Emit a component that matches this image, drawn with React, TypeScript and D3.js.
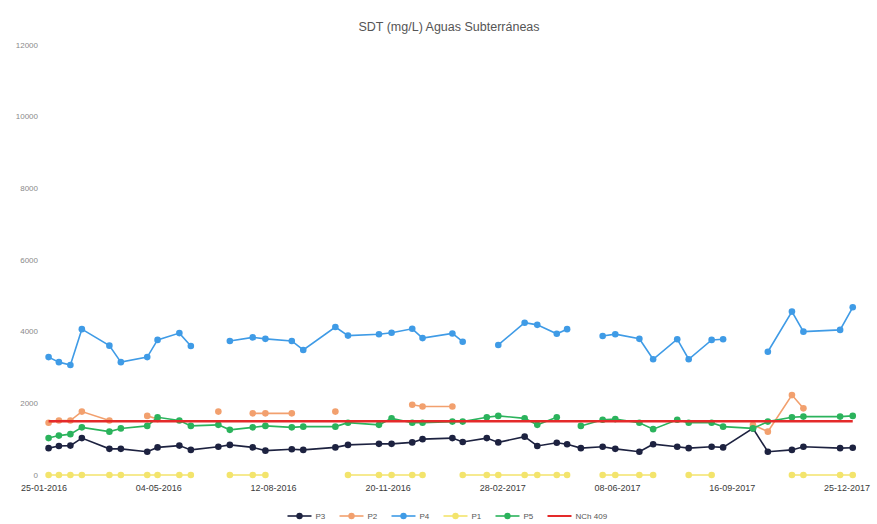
import React, { useEffect } from 'react';
import * as d3 from 'd3';

// fechas de muestreo
const sampleDates = [
  '2016-01-29', '2016-02-07', '2016-02-17', '2016-02-27', '2016-03-22', '2016-04-01', '2016-04-24', '2016-05-03', '2016-05-22', '2016-06-01',
  '2016-06-25', '2016-07-05', '2016-07-25', '2016-08-05', '2016-08-28', '2016-09-07', '2016-10-05', '2016-10-16', '2016-11-12', '2016-11-23',
  '2016-12-11', '2016-12-20', '2017-01-15', '2017-01-24', '2017-02-14', '2017-02-24', '2017-03-19', '2017-03-30', '2017-04-16', '2017-04-25',
  '2017-05-07', '2017-05-26', '2017-06-06', '2017-06-27', '2017-07-09', '2017-07-30', '2017-08-09', '2017-08-29', '2017-09-08', '2017-10-04',
  '2017-10-17', '2017-11-07', '2017-11-17', '2017-12-19', '2017-12-30',
];

// SDT por pozo, null = sin dato
const p3 = [
  750, 810, 820, 1030, 730, 730, 650, 770, 820, 700,
  790, 840, 770, 680, 720, 700, 770, 840, 870, 870,
  910, 1000, 1030, 920, 1030, 910, 1070, 810, 900, 860,
  750, 790, 730, 650, 860, 790, 750, 790, 770, 1300,
  650, 700, 790, 750, 760,
];
const p2 = [
  1460, 1520, 1520, 1770, 1520, null, 1650, 1560, null, null,
  1770, null, 1720, 1720, 1720, null, 1770, null, null, null,
  1960, 1910, 1910, null, null, null, null, null, null, null,
  null, null, null, null, null, null, null, null, null, 1400,
  1210, 2230, 1860, null, null,
];
const p4 = [
  3290, 3150, 3070, 4070, 3610, 3150, 3290, 3770, 3960, 3600,
  null, 3740, 3840, 3800, 3740, 3490, 4130, 3890, 3930, 3970,
  4080, 3820, 3950, 3720, null, 3630, 4250, 4190, 3940, 4070,
  null, 3880, 3930, 3800, 3230, 3790, 3230, 3770, 3790, null,
  3440, 4560, 4000, 4050, 4680,
];
const p1 = [
  0, 0, 0, 0, 0, 0, 0, 0, 0, 0,
  null, 0, 0, 0, null, null, null, 0, 0, 0,
  0, 0, null, 0, 0, 0, 0, 0, 0, 0,
  null, 0, 0, 0, 0, null, 0, 0, null, null,
  null, 0, 0, 0, 0,
];
const p5 = [
  1030, 1100, 1140, 1330, 1210, 1300, 1370, 1610, 1520, 1370,
  1400, 1260, 1330, 1370, 1330, 1350, 1350, 1460, 1400, 1580,
  1460, 1460, 1490, 1490, 1610, 1650, 1580, 1400, 1610, null,
  1370, 1540, 1560, 1460, 1280, 1540, 1460, 1460, 1350, 1300,
  1490, 1610, 1630, 1630, 1650,
];
// límite NCh 409 (mg/L)
const normLimit = 1500;

const xTickLabels = ['25-01-2016', '04-05-2016', '12-08-2016', '20-11-2016', '28-02-2017', '08-06-2017', '16-09-2017', '25-12-2017'];
const yTicks = [0, 2000, 4000, 6000, 8000, 10000, 12000];

const seriesNames = ['P3', 'P2', 'P4', 'P1', 'P5'];
const seriesValues = [p3, p2, p4, p1, p5];
const seriesColors = ['#1d2240', '#f2a06e', '#3f9be6', '#f3e46c', '#2bb35c'];
const normName = 'NCh 409';
const normColor = '#e42a2a';

const W = 877, H = 524;
const FONT = '"Liberation Sans", "Open Sans", sans-serif';

export default function App() {
  useEffect(() => {
    document.body.style.margin = '0';
  }, []);

  const parseIso = d3.timeParse('%Y-%m-%d');
  const parseTick = d3.timeParse('%d-%m-%Y');
  const dates = sampleDates.map(s => parseIso(s) as Date);
  const tickDates = xTickLabels.map(s => parseTick(s) as Date);

  const x = d3.scaleTime()
    .domain([tickDates[0], tickDates[tickDates.length - 1]])
    .range([44, 847]);
  const y = d3.scaleLinear().domain([0, 12000]).range([475, 45]);

  const line = d3.line<number | null>()
    .defined(v => v !== null)
    .x((_, i) => x(dates[i]))
    .y(v => y(v as number));

  // leyenda: ancho por ítem
  const legendItems = [
    ...seriesNames.map((n, i) => ({ name: n, color: seriesColors[i], marker: true })),
    { name: normName, color: normColor, marker: false },
  ];
  const itemW = (n: string) => 24 + 4 + n.length * 5 + 14;
  const totalW = legendItems.reduce((a, it) => a + itemW(it.name), 0) - 14;
  let lx = 449 - totalW / 2;
  const legendPos = legendItems.map(it => { const p = lx; lx += itemW(it.name); return p; });

  return (
    <svg width={W} height={H} style={{ display: 'block', background: '#fff', fontFamily: FONT }}>
      <text x={449} y={31} textAnchor="middle" fontSize={12.5} fill="#555">SDT (mg/L) Aguas Subterráneas</text>

      {yTicks.map(t => (
        <text key={t} x={38} y={y(t)} dy="0.32em" textAnchor="end" fontSize={8} fill="#8a8a8a">{t}</text>
      ))}

      {tickDates.map((d, i) => (
        <text key={i} x={x(d)} y={491} textAnchor="middle" fontSize={9} fill="#3a3a3a">{xTickLabels[i]}</text>
      ))}

      {seriesValues.map((vals, si) => (
        <g key={si}>
          <path d={line(vals) || ''} fill="none" stroke={seriesColors[si]} strokeWidth={1.6} />
          {vals.map((v, i) => v === null ? null : (
            <circle key={i} cx={x(dates[i])} cy={y(v)} r={3.3} fill={seriesColors[si]} />
          ))}
        </g>
      ))}

      <line x1={x(dates[0])} x2={x(dates[dates.length - 1])} y1={y(normLimit)} y2={y(normLimit)}
        stroke={normColor} strokeWidth={2.4} />

      {legendItems.map((it, i) => (
        <g key={it.name} transform={`translate(${legendPos[i]},516)`}>
          <line x1={0} x2={24} y1={0} y2={0} stroke={it.color} strokeWidth={it.marker ? 1.6 : 2} />
          {it.marker && <circle cx={12} cy={0} r={3.2} fill={it.color} />}
          <text x={28} y={0} dy="0.32em" fontSize={8} fill="#555">{it.name}</text>
        </g>
      ))}
    </svg>
  );
}
